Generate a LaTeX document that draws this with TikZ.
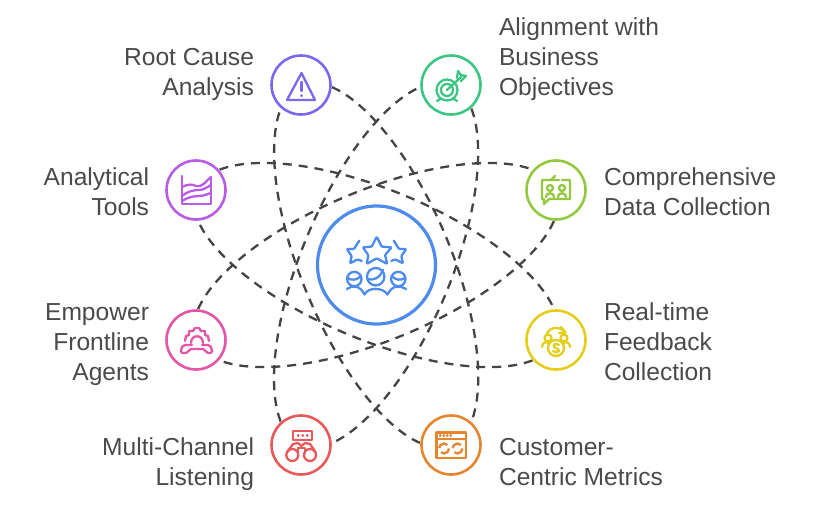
\documentclass[tikz,border=0pt]{standalone}
\usepackage{fontspec}
\setmainfont{Liberation Sans}
\usetikzlibrary{positioning,calc,backgrounds}

\definecolor{inkgray}{HTML}{4A4A4A}
\definecolor{linkgray}{HTML}{444444}
\definecolor{rootcol}{HTML}{7B68EE}
\definecolor{aligncol}{HTML}{3CC583}
\definecolor{datacol}{HTML}{93C83F}
\definecolor{feedcol}{HTML}{E3CE1E}
\definecolor{metriccol}{HTML}{E5852E}
\definecolor{multicol}{HTML}{E85A5A}
\definecolor{agentcol}{HTML}{E356A7}
\definecolor{toolcol}{HTML}{B85CE8}
\definecolor{hubcol}{HTML}{4D8BEC}

\begin{document}
\begin{tikzpicture}[
  x=1pt,y=-1pt,
  ringstyle/.style={circle,draw=#1,fill=white,line width=2.6pt,minimum size=59pt,inner sep=0pt},
  labelstyle/.style={text=inkgray,font=\fontsize{24.6}{30}\selectfont,inner sep=0pt},
  linkstyle/.style={draw=linkgray,line width=2.3pt,dash pattern=on 9pt off 7pt},
  iconstyle/.style={draw=#1,line width=2.3pt,line cap=round,line join=round}
]
\useasboundingbox (0,0) rectangle (828,523);

\node [circle,draw=hubcol,fill=white,line width=3.2pt,minimum size=118pt,inner sep=0pt] (hub) at (376.5,265) { } ;
\node [ringstyle=rootcol] (root) at (301,85) { } ;
\node [ringstyle=aligncol] (goal) at (451,85) { } ;
\node [ringstyle=datacol] (data) at (556,190) { } ;
\node [ringstyle=feedcol] (feed) at (556,340) { } ;
\node [ringstyle=metriccol] (metric) at (451,445) { } ;
\node [ringstyle=multicol] (multi) at (301,445) { } ;
\node [ringstyle=agentcol] (agent) at (196,340) { } ;
\node [ringstyle=toolcol] (tool) at (196,190) { } ;

\node [labelstyle,align=right,left=16pt of root,yshift=11pt] (root label) { Root Cause\\Analysis } ;
\node [labelstyle,align=left,right=17pt of goal,yshift=26pt] (goal label) { Alignment with\\Business\\Objectives } ;
\node [labelstyle,align=left,right=17pt of data,yshift=-2pt] (data label) { Comprehensive\\Data Collection } ;
\node [labelstyle,align=left,right=17pt of feed,yshift=-2pt] (feed label) { Real-time\\Feedback\\Collection } ;
\node [labelstyle,align=left,right=17pt of metric,yshift=-17pt] (metric label) { Customer-\\Centric Metrics } ;
\node [labelstyle,align=right,left=16pt of multi,yshift=-19pt] (multi label) { Multi-Channel\\Listening } ;
\node [labelstyle,align=right,left=16pt of agent,yshift=-5pt] (agent label) { Empower\\Frontline\\Agents } ;
\node [labelstyle,align=right,left=16pt of tool,yshift=-2pt] (tool label) { Analytical\\Tools } ;

\begin{scope}[on background layer]
\foreach \from/\to in {root/metric,metric/root,goal/multi,multi/goal,tool/feed,feed/tool,data/agent,agent/data} {
  \coordinate (bend) at ($(hub.center)!75pt!90:(\to.center)$);
  \draw [linkstyle] (\from.center)
    .. controls ($(\from.center)+.5523*(bend)-.5523*(hub.center)$) and ($(bend)+.5523*(\from.center)-.5523*(hub.center)$) .. (bend)
    .. controls ($(bend)+.5523*(\to.center)-.5523*(hub.center)$) and ($(\to.center)+.5523*(bend)-.5523*(hub.center)$) .. (\to.center);
}
\end{scope}

% warning sign
\begin{scope}[shift={(root.center)},iconstyle=rootcol]
\draw (0.5,-12) -- (-14,15) -- (14,15) -- cycle;
\draw (0.5,-3) -- (0.5,6);
\draw (0.5,10.5) -- (0.5,11);
\end{scope}

% target
\begin{scope}[shift={(goal.center)},iconstyle=aligncol]
\draw (-4,5) circle (10.5);
\draw (-4,5) circle (6);
\draw (-4,5) -- (10,-8);
\draw (6,-7) -- (7,-14) -- (10,-10) -- (15,-9) -- (10,-4);
\draw (-11,14) -- (-14,16);
\draw (3,14) -- (6,16);
\end{scope}

% speech bubble
\begin{scope}[shift={(data.center)},iconstyle=datacol]
\draw (-4,-10) -- (-14,-10) -- (-14,9) -- (-12,9) -- (-12,14) -- (-7,9) -- (14,9) -- (14,-10) -- (6,-10);
\draw (3,-10) -- (-5,-10) -- (-1,-14);
\draw (-6,-2) circle (3);
\draw (6,-2) circle (3);
\draw (-10,7) .. controls (-10,2) and (-2,2) .. (-2,7);
\draw (2,7) .. controls (2,2) and (10,2) .. (10,7);
\end{scope}

% coin and arrow
\begin{scope}[shift={(feed.center)},iconstyle=feedcol]
\draw (0,8) circle (8);
\draw (3,5) .. controls (0,3) and (-3,4) .. (-2,7) .. controls (-1,9) and (3,8) .. (3,11) .. controls (2,13) and (-1,13) .. (-3,11);
\draw (-8,-2) circle (3.5);
\draw (8,-2) circle (3.5);
\draw (-14,7) .. controls (-14,3) and (-10,1) .. (-8,3);
\draw (14,7) .. controls (14,3) and (10,1) .. (8,3);
\draw (-9,-7) .. controls (-6,-13) and (4,-14) .. (9,-8);
\draw (5,-13) -- (9.5,-7.5) -- (3,-7);
\end{scope}

% browser window
\begin{scope}[shift={(metric.center)},iconstyle=metriccol]
\draw (-14.5,-12.5) rectangle (15,13);
\draw (-14.5,-6) -- (15,-6);
\draw (-11,-9.5) -- (-10.5,-9.5) (-7.5,-9.5) -- (-7,-9.5) (-4,-9.5) -- (-3.5,-9.5) (-0.5,-9.5) -- (0,-9.5);
\draw [line cap=butt,dash pattern=on 11pt off 4.7pt] (-7,3.5) circle (5);
\draw [line cap=butt,dash pattern=on 11pt off 4.7pt] (6.5,3.5) circle (5);
\end{scope}

% binoculars
\begin{scope}[shift={(multi.center)},iconstyle=multicol]
\draw (-8,-14) rectangle (11,-5);
\draw (-3,-9.5) -- (-2.5,-9.5) (1.5,-9.5) -- (2,-9.5) (6,-9.5) -- (6.5,-9.5);
\draw (-8.7,10) circle (6);
\draw (9,10) circle (6);
\draw (-14,7) -- (-8,-1) -- (-3,-2) -- (0.5,1) -- (4,-2) -- (9,-1) -- (14.5,7);
\draw (-3,8) -- (-3,3) -- (4,3) -- (4,8);
\end{scope}

% gear and handset
\begin{scope}[shift={(agent.center)},iconstyle=agentcol]
\draw (-11,1) -- (-10,-4) -- (-7,-5) -- (-7,-9) -- (-3,-9) -- (-1,-12) -- (3,-12) -- (5,-9) -- (9,-9) -- (9,-5) -- (12,-4) -- (13,1);
\draw (-5,3) .. controls (-5,-6) and (7,-6) .. (7,3);
\draw [rounded corners=2pt] (-4,5) -- (-13,5) -- (-15,9) -- (-15,13) -- (-8,13) -- (-7,9) -- (9,9) -- (10,13) -- (16,13) -- (16,9) -- (14,5) -- (6,5);
\end{scope}

% chart
\begin{scope}[shift={(tool.center)},iconstyle=toolcol]
\draw (-14,-14) -- (-14,14) -- (15,14) -- (15,-13);
\draw (-14,-3) .. controls (-8,-6) and (-4,-6) .. (0,-4) .. controls (6,-2) and (10,-9) .. (15,-13);
\draw (-14,6) .. controls (-8,1) and (-2,0) .. (3,0) .. controls (8,0) and (11,-3) .. (15,-5);
\draw (-14,11) .. controls (-8,7) and (-2,6) .. (3,6) .. controls (8,6) and (11,4) .. (15,3);
\end{scope}

% stars and people
\begin{scope}[iconstyle=hubcol,line width=2.3pt,rounded corners=1pt]
\draw (376.7,236.7) -- (381.7,246.7) -- (391.7,247.3) -- (385,255) -- (387.3,264) -- (376.7,258.3) -- (366.7,264) -- (368.3,255) -- (362.7,247.3) -- (371.7,246.7) -- cycle;
\draw (359.3,240.7) -- (354,249) -- (346.7,249) -- (351.7,256) -- (350,263.3) -- (357.7,259.3) -- (361.7,261);
\draw (393.7,240.7) -- (399,249) -- (406.3,249) -- (401.3,256) -- (403,263.3) -- (395.3,259.3) -- (391.3,261);
\end{scope}
\begin{scope}[iconstyle=hubcol,line width=2.3pt]
\draw (354.3,279) circle (7.2);
\draw (375.7,276.7) circle (8.7);
\draw (398.3,279) circle (7.2);
\draw (347.5,278) .. controls (352,281) and (357,280) .. (361,276);
\draw (367.5,279) .. controls (373,281) and (380,278) .. (383,270);
\draw (391.5,276) .. controls (396,280) and (400,281) .. (405,278);
\draw (347,289) .. controls (352,285) and (360,285) .. (364.5,294.5);
\draw (364.5,294.5) .. controls (368,287) and (383,287) .. (387.5,294.5);
\draw (387.5,294.5) .. controls (392,285) and (400,285) .. (406,289);
\end{scope}
\end{tikzpicture}
\end{document}
